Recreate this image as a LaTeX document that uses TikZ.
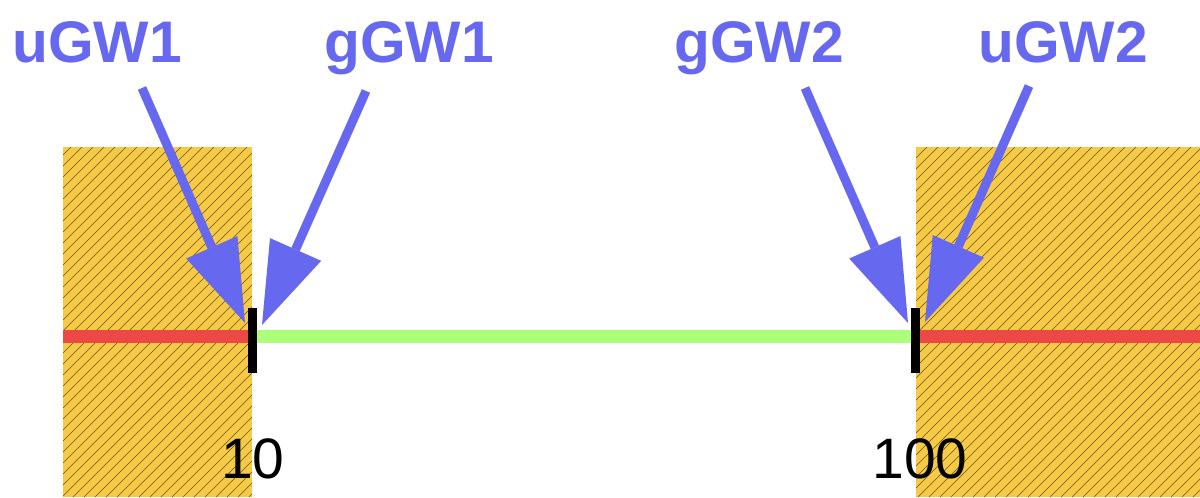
\documentclass[tikz,border=0pt]{standalone}
\usepackage{fontspec}
\setmainfont{Liberation Sans}
\usetikzlibrary{arrows.meta}
\definecolor{gwblue}{RGB}{102,104,240}
\definecolor{boxyellow}{RGB}{247,202,69}
\definecolor{hatchcol}{RGB}{100,82,30}
\definecolor{linered}{RGB}{236,72,70}
\definecolor{linegreen}{RGB}{173,255,122}
\begin{document}
\begin{tikzpicture}[x=0.75pt,y=-0.75pt,
  lbl/.style={text=gwblue,font=\fontsize{44}{44}\selectfont\bfseries,anchor=base,inner sep=0pt},
  num/.style={text=black,font=\fontsize{42.75}{43}\selectfont,anchor=base,inner sep=0pt},
  gwarrow/.style={draw=gwblue,line width=6.75pt,-{Triangle[length=62pt,width=42pt,line width=0pt]}},
  ticknode/.style={fill=black,draw=none,inner sep=0pt,minimum width=6.75pt,minimum height=48.75pt},
  zone/.style={fill=boxyellow,draw=none},
  hatch/.style={draw=hatchcol,line width=0.35pt},
  redline/.style={draw=linered,line width=9.75pt},
  greenline/.style={draw=linegreen,line width=9.75pt}]
\useasboundingbox (0,0) rectangle (1200,497);
% zones
\fill[zone] (63,147) rectangle (252,497);
\fill[zone] (916,147) rectangle (1200,497);
\begin{scope}
  \clip (63,147) rectangle (252,497);
  \foreach \i in {-400,-389,...,300} \draw[hatch] (\i,497) -- ++(360,-360);
\end{scope}
\begin{scope}
  \clip (916,147) rectangle (1200,497);
  \foreach \i in {500,511,...,1250} \draw[hatch] (\i,497) -- ++(360,-360);
\end{scope}
% ticks
\node[ticknode] (t1) at (252.5,340.5) {};
\node[ticknode] (t2) at (915.5,340.5) {};
\coordinate (l0) at (63,336);
\coordinate (r0) at (1200,336);
% lines
\draw[redline] (l0) -- (t1.west |- l0);
\draw[greenline] (t1.east |- l0) -- (t2.west |- l0);
\draw[redline] (t2.east |- l0) -- (r0);
\node[ticknode] at (t1) {};
\node[ticknode] at (t2) {};
% numbers
\node[num] (n10) at (253,478) {10};
\node[num] (n100) at (920,478) {100};
% labels
\node[lbl] (u1) at (97,62) {uGW1};
\node[lbl] (g1) at (409,62) {gGW1};
\node[lbl] (g2) at (759,62) {gGW2};
\node[lbl] (u2) at (1063,62) {uGW2};
% arrow ends
\coordinate (u1s) at (142,88);
\coordinate (g1s) at (366,91);
\coordinate (g2s) at (805,88);
\coordinate (u2s) at (1029,86);
\coordinate (u1e) at (245,323);
\coordinate (g1e) at (262,325);
\coordinate (g2e) at (908,323);
\coordinate (u2e) at (925,322);
\draw[gwarrow] (u1s) -- (u1e);
\draw[gwarrow] (g1s) -- (g1e);
\draw[gwarrow] (g2s) -- (g2e);
\draw[gwarrow] (u2s) -- (u2e);
\end{tikzpicture}
\end{document}
